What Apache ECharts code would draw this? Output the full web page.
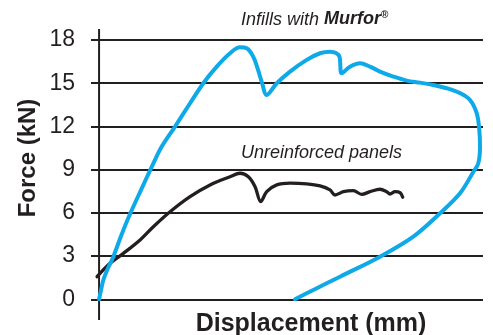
<!DOCTYPE html>
<html>
<head>
<meta charset="utf-8">
<script src="https://cdn.jsdelivr.net/npm/echarts@6/dist/echarts.min.js"></script>
<style>html,body{margin:0;padding:0;background:#fff}#c{width:493px;height:335px}</style>
</head>
<body>
<div id="c"></div>
<script>
// Displacement (arbitrary units 0-100) and force (kN)
const murforX = [0, 0.52, 1.12, 2.34, 3.72, 5.73, 8.07, 11.54, 14.14, 16.33, 19.79, 23.70, 27.16, 30.65, 34.11, 36.72, 38.46, 40.18, 41.41, 42.45, 43.67, 46.28, 49.74, 54.09, 57.55, 60.16, 61.72, 62.63, 63.20, 65.36, 67.97, 70.57, 73.18, 76.64, 80.13, 83.59, 87.06, 90.55, 94.01, 96.61, 98.36, 99.04, 99.22, 98.78, 97.47, 94.01, 88.80, 81.85, 73.18, 62.76, 55.81, 51.04];
const murforY = [0, 0.65, 1.34, 2.17, 2.96, 4.40, 5.92, 7.94, 9.44, 10.60, 11.99, 13.61, 15.00, 16.15, 17.08, 17.49, 17.42, 16.83, 15.92, 15.02, 14.19, 15.00, 15.81, 16.62, 17.08, 17.19, 17.10, 16.83, 15.69, 16.15, 16.39, 16.15, 15.81, 15.46, 15.18, 15.04, 14.88, 14.65, 14.31, 13.84, 12.92, 11.76, 10.60, 9.44, 8.84, 7.36, 5.97, 4.35, 2.96, 1.57, 0.65, 0];
const plainX = [-0.52, 2.86, 6.33, 10.68, 14.14, 18.49, 23.70, 28.91, 34.11, 36.72, 38.88, 40.63, 42.11, 43.67, 46.28, 49.74, 54.09, 57.55, 60.16, 61.46, 63.62, 66.23, 68.41, 70.57, 73.18, 74.92, 75.78, 77.08, 78.39, 79.09];
const plainY = [1.57, 2.50, 3.19, 4.12, 5.04, 6.08, 7.13, 7.94, 8.51, 8.75, 8.51, 7.82, 6.78, 7.47, 7.94, 8.06, 8.01, 7.87, 7.59, 7.24, 7.47, 7.54, 7.29, 7.47, 7.64, 7.47, 7.31, 7.47, 7.40, 7.08];
const yMin = 0, yMax = 18, yStep = 3;
const axisLineX = [0, 0];
const axisLineY = [-1.44, 18.77];
const murforLabelA = 'Infills with ';
const murforLabelB = 'Murfor';
const plainLabel = 'Unreinforced panels';
const yName = 'Force (kN)';
const xName = 'Displacement (mm)';

const zip = (a, b) => a.map((v, i) => [v, b[i]]);
const ink = '#231f20';
const chart = echarts.init(document.getElementById('c'), null, {renderer: 'canvas'});
chart.setOption({
  animation: false,
  backgroundColor: '#fff',
  grid: {left: 91, right: 10, top: 40, bottom: 35.7},
  xAxis: {type: 'value', min: -2.1, max: 100, show: false},
  yAxis: {
    type: 'value', min: yMin, max: yMax, interval: yStep,
    axisLine: {show: false}, axisTick: {show: false},
    axisLabel: {margin: 16, fontSize: 23, color: ink, fontFamily: 'Liberation Sans'},
    splitLine: {show: true, lineStyle: {color: ink, width: 2}}
  },
  series: [
    {type: 'line', data: zip(axisLineX, axisLineY), clip: false, symbol: 'none', silent: true,
     lineStyle: {color: ink, width: 2}, z: 3},
    {type: 'line', data: zip(plainX, plainY), symbol: 'none', smooth: 0.35,
     lineStyle: {color: ink, width: 3.3, cap: 'round', join: 'round'}, z: 4},
    {type: 'line', data: zip(murforX, murforY), symbol: 'none', smooth: 0.35,
     lineStyle: {color: '#0ea9e8', width: 4, cap: 'round', join: 'round'}, z: 5}
  ],
  graphic: [
    {type: 'text', left: 241, top: 10, style: {
      text: '{a|' + murforLabelA + '}{b|' + murforLabelB + '}{c|®}',
      rich: {
        a: {fontSize: 18, fontStyle: 'italic', fontFamily: 'Liberation Sans', fill: ink, color: ink},
        b: {fontSize: 18, fontStyle: 'italic', fontWeight: 'bold', fontFamily: 'Liberation Sans', fill: ink, color: ink},
        c: {fontSize: 10, fontWeight: 'bold', fontFamily: 'Liberation Sans', fill: ink, color: ink, verticalAlign: 'top', padding: [0, 0, 9, 0]}
      }
    }},
    {type: 'text', left: 241, top: 144, style: {
      text: plainLabel, fill: ink,
      font: 'italic 18px "Liberation Sans"'
    }},
    {type: 'text', x: 28, y: 158, rotation: Math.PI / 2, style: {
      text: yName, fill: ink, textAlign: 'center', textVerticalAlign: 'middle',
      font: 'bold 24px "Liberation Sans"'
    }},
    {type: 'text', x: 311, y: 324, style: {
      text: xName, fill: ink, textAlign: 'center', textVerticalAlign: 'middle',
      font: 'bold 25px "Liberation Sans"'
    }}
  ]
});
</script>
</body>
</html>
